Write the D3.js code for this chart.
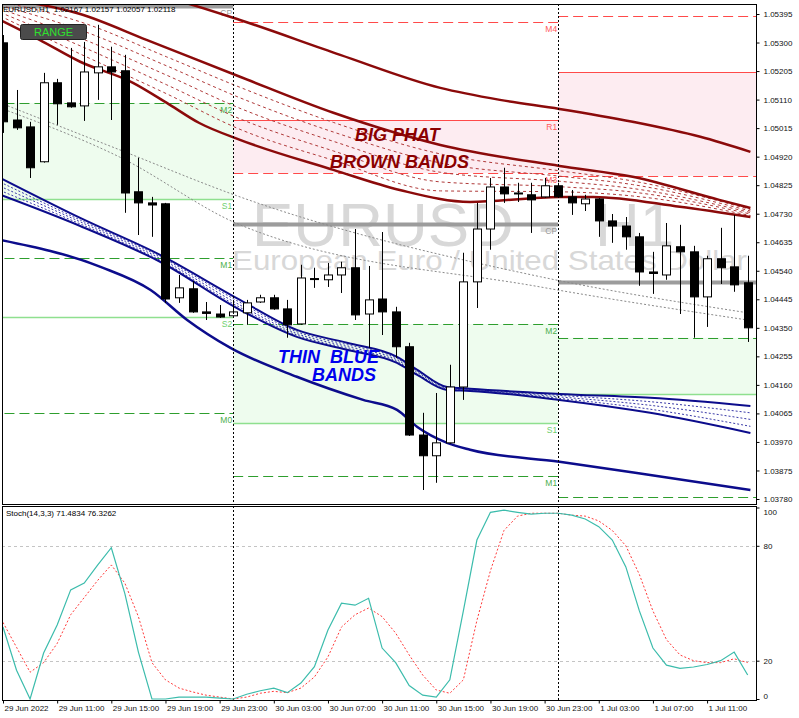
<!DOCTYPE html>
<html><head><meta charset="utf-8">
<script src="https://cdn.jsdelivr.net/npm/d3@7"></script>
<style>body{margin:0;background:#fff;}svg{display:block;font-family:"Liberation Sans",Arial,sans-serif;}</style>
</head><body><svg id="c" width="799" height="718"></svg>
<script>
// ---------------- DATA ----------------
const opens  = [1.05299,1.05042,1.05019,1.04903,1.05166,1.05099,1.05089,1.05199,1.05219,1.05206,1.04803,1.04766,1.04763,1.04450,1.04480,1.04403,1.04396,1.04390,1.04400,1.04436,1.04450,1.04413,1.04363,1.04514,1.04510,1.04526,1.04550,1.04396,1.04446,1.04403,1.04287,1.03993,1.03924,1.03967,1.04153,1.04503,1.04679,1.04819,1.04799,1.04793,1.04786,1.04823,1.04786,1.04763,1.04779,1.04706,1.04689,1.04653,1.04536,1.04526,1.04620,1.04603,1.04453,1.04580,1.04553,1.04500];
const highs  = [1.05325,1.05142,1.05036,1.05199,1.05179,1.05282,1.05302,1.05359,1.05286,1.05259,1.04916,1.04786,1.04766,1.04526,1.04506,1.04436,1.04426,1.04436,1.04443,1.04460,1.04460,1.04443,1.04560,1.04550,1.04566,1.04570,1.04679,1.04556,1.04669,1.04420,1.04300,1.04067,1.04133,1.04227,1.04600,1.04766,1.04849,1.04883,1.04833,1.04833,1.04849,1.04833,1.04809,1.04793,1.04782,1.04729,1.04719,1.04666,1.04603,1.04699,1.04693,1.04623,1.04590,1.04683,1.04726,1.04590];
const lows   = [1.04999,1.05009,1.04849,1.04900,1.05026,1.05083,1.05039,1.05109,1.05042,1.04733,1.04659,1.04653,1.04433,1.04433,1.04400,1.04376,1.04383,1.04383,1.04360,1.04433,1.04410,1.04317,1.04360,1.04483,1.04486,1.04466,1.04376,1.04283,1.04326,1.04250,1.03990,1.03810,1.03834,1.03964,1.04110,1.04416,1.04610,1.04766,1.04769,1.04666,1.04783,1.04783,1.04726,1.04739,1.04653,1.04633,1.04610,1.04490,1.04463,1.04510,1.04396,1.04317,1.04353,1.04496,1.04470,1.04303];
const closes = [1.05036,1.05016,1.04883,1.05166,1.05096,1.05086,1.05202,1.05219,1.05202,1.04799,1.04766,1.04759,1.04446,1.04483,1.04403,1.04398,1.04386,1.04403,1.04433,1.04450,1.04413,1.04360,1.04516,1.04512,1.04526,1.04550,1.04393,1.04443,1.04403,1.04287,1.03993,1.03924,1.03967,1.04153,1.04503,1.04679,1.04819,1.04796,1.04796,1.04776,1.04823,1.04786,1.04766,1.04779,1.04706,1.04689,1.04653,1.04536,1.04531,1.04623,1.04603,1.04453,1.04580,1.04550,1.04493,1.04350];

const stochMain   = [37.6,15,0,24,38.6,57,60.5,70,79,55,24.5,0,0,1,1,1,0.5,0,2.5,4.3,5.7,3.3,8.3,16.9,36,50,49,52.6,26.6,19,7,2,1,10,46,83,97.5,98.6,97.5,96.5,97,97,96,94,90,83,69,46,26.6,17.7,16,16.7,18,20,24.5,12.5];
const stochSignal = [40,27,14,19,29,44,53,62,70,60.5,43,19,10,5.7,3.7,2,1,0,1,3,4,3.3,5.7,11.5,22,37.6,44,47.5,43,34.4,23,12.5,4.7,3,10,41,67,88,95.5,97,97,97,96,95.5,93,88,80,65,46,31,23,20,19,19,21,19];

// band lines: [bar index, price]
const brownOuter = [[9,1.05482],[12.7,1.05442],[17.5,1.05375],[24.9,1.05259],[32.3,1.05149],[36.7,1.05109],[41.1,1.05079],[46.5,1.05036],[51.5,1.04986],[55.2,1.04936]];
const brownUpper = [[-0.2,1.05449],[5.7,1.05395],[10.6,1.05309],[17.5,1.05186],[24.4,1.05066],[32.3,1.04959],[41.1,1.04889],[46.5,1.04853],[52.9,1.04776],[55.2,1.04749]];
const brownLower = [[-0.2,1.05375],[2.7,1.05309],[5.7,1.05236],[9.6,1.05166],[12.1,1.05099],[14.5,1.05032],[17.5,1.04976],[24.4,1.04876],[29.3,1.04809],[34.5,1.04769],[41.1,1.04786],[43.6,1.04786],[50,1.04753],[55.2,1.04719]];
const brownFanBars = [-0.2,5.7,12.1,17.5,24.4,32.3,41.1,46.5,55.2];
const brownFan1 = [1.05436,1.05369,1.05252,1.05151,1.05034,1.04929,1.04873,1.04839,1.04744];
const brownFan2 = [1.05424,1.05342,1.05222,1.05116,1.05002,1.04899,1.04855,1.04827,1.04739];
const brownFan3 = [1.05412,1.05315,1.05191,1.05081,1.04971,1.04868,1.04838,1.04814,1.04734];
const brownFan4 = [1.05400,1.05289,1.05159,1.05046,1.04939,1.04836,1.04820,1.04802,1.04729];
const brownFan5 = [1.05388,1.05262,1.05129,1.05011,1.04908,1.04806,1.04803,1.04789,1.04724];

const blueBars  = [-0.2,5.7,11.6,17.5,21.7,25.4,29.1,30.6,32.8,34.5,41.1,47.8,55.2];
const blueUpper = [1.04849,1.04716,1.04593,1.04443,1.04343,1.04300,1.04253,1.04210,1.04153,1.04147,1.04130,1.04117,1.04090];
const blueFan1  = [1.04835,1.04709,1.04587,1.04435,1.04337,1.04294,1.04248,1.04206,1.04151,1.04145,1.04125,1.04104,1.04067];
const blueFan2  = [1.04821,1.04703,1.04581,1.04426,1.04331,1.04288,1.04243,1.04202,1.04148,1.04143,1.04120,1.04092,1.04045];
const blueFan3  = [1.04807,1.04696,1.04575,1.04418,1.04326,1.04282,1.04238,1.04197,1.04146,1.04142,1.04115,1.04079,1.04022];
const blueLower = [1.04793,1.04689,1.04570,1.04410,1.04320,1.04277,1.04233,1.04193,1.04143,1.04140,1.04110,1.04067,1.04000];
const blueOuter = [[-0.2,1.04643],[7.2,1.04553],[10.9,1.04476],[13.6,1.04376],[16.8,1.04283],[21.7,1.04187],[26.6,1.04110],[29.1,1.04077],[30.6,1.04020],[32.8,1.03967],[34.5,1.03944],[41.1,1.03904],[47.8,1.03860],[55.2,1.03810]];

const grayMA1 = [[-0.2,1.05099],[8.6,1.04943],[17.5,1.04786],[39.7,1.04520],[55,1.04400]];
const grayMA2 = [[-0.2,1.05082],[8.6,1.04919],[17.5,1.04693],[39.7,1.04486],[55,1.04376]];

// pivot levels per day (day start bar, end bar)
const dayStarts = [-1, 17, 41];
const dayEnds   = [17, 41, 57];
const levelNames = ["M4","R1","M3","CP","M2","S1","M1","S2","M0"];
const levelsDay1 = [null,null,null,1.05422,1.05099,1.04779,1.04583,1.04386,1.04067];
const levelsDay2 = [1.05369,1.05042,1.04866,1.04696,1.04363,1.04033,1.03857,null,null];
const levelsDay3 = [1.05389,1.05202,1.04856,1.04503,1.04317,1.04130,1.03787,null,null];

const priceTicks = [1.05395,1.05300,1.05205,1.05110,1.05015,1.04920,1.04825,1.04730,1.04635,1.04540,1.04445,1.04350,1.04255,1.04160,1.04065,1.03970,1.03875,1.03780];
const timeTickBars = [0,4,8,12,16,20,24,28,32,36,40,44,48,52];
const timeTickLabels = ["29 Jun 2022","29 Jun 11:00","29 Jun 15:00","29 Jun 19:00","29 Jun 23:00","30 Jun 03:00","30 Jun 07:00","30 Jun 11:00","30 Jun 15:00","30 Jun 19:00","30 Jun 23:00","1 Jul 03:00","1 Jul 07:00","1 Jul 11:00"];
const stochTicks = [0,20,80,100];
const separatorBars = [17,41];

// ---------------- DRAW ----------------
const W=799,H=718;
const L=2,R=756,MT=4,MB=504,ST=506,SB=700;
const svg=d3.select("#c");
const x=d3.scaleLinear().domain([0,55]).range([3,3+55*13.54]);
const y=d3.scaleLinear().domain([1.03780,1.05395]).range([499,14]);
const ys=d3.scaleLinear().domain([0,100]).range([699,507.5]);

svg.append("rect").attr("width",W).attr("height",H).attr("fill","#fff");
const defs=svg.append("defs");
defs.append("clipPath").attr("id","cm").append("rect").attr("x",L).attr("y",MT).attr("width",R-L).attr("height",MB-MT);
defs.append("clipPath").attr("id","cs").append("rect").attr("x",L).attr("y",ST).attr("width",R-L).attr("height",SB-ST);

const main=svg.append("g").attr("clip-path","url(#cm)");

// pivot zones
const allDays=[levelsDay1,levelsDay2,levelsDay3];
const idx=n=>levelNames.indexOf(n);
allDays.forEach((lv,d)=>{
  const xs=x(dayStarts[d]), xe=x(dayEnds[d]);
  if(lv[idx("R1")]!=null && lv[idx("M3")]!=null)
    main.append("rect").attr("x",xs).attr("width",xe-xs).attr("y",y(lv[idx("R1")])).attr("height",y(lv[idx("M3")])-y(lv[idx("R1")])).attr("fill","#fdecf1");
  if(lv[idx("M2")]!=null && lv[idx("S1")]!=null)
    main.append("rect").attr("x",xs).attr("width",xe-xs).attr("y",y(lv[idx("M2")])).attr("height",y(lv[idx("S1")])-y(lv[idx("M2")])).attr("fill","#eefcee");
});

// watermark
const wm=main.append("text").attr("y",246).attr("font-size",62).attr("fill","#d8d8d8");
wm.append("tspan").attr("x",252).text("EURUSD");
wm.append("tspan").attr("x",538).text("-");
wm.append("tspan").attr("x",595).text("H1");
main.append("text").attr("x",232).attr("y",270).attr("font-size",28).attr("fill","#d8d8d8")
  .attr("textLength",515).attr("lengthAdjust","spacingAndGlyphs").text("European Euro / United States Dollar");

// pivot lines
const style=n=>{
  if(n==="CP") return {c:"#9c9c9c",w:4,da:null,tc:"#9c9c9c"};
  if(n==="R1") return {c:"#ff4a4a",w:1,da:null,tc:"#ff5a5a"};
  if(n==="M3"||n==="M4") return {c:"#ff4a4a",w:1,da:"10,5",tc:"#ff5a5a"};
  if(n[0]==="S") return {c:"#8fe08f",w:1.5,da:null,tc:"#6fd06f"};
  return {c:"#2e9e2e",w:1,da:"10,5",tc:"#4caf4c"};
};
allDays.forEach((lv,d)=>{
  const xs=x(dayStarts[d]), xe=x(dayEnds[d]);
  lv.forEach((v,k)=>{
    if(v==null) return;
    const s=style(levelNames[k]);
    main.append("line").attr("x1",xs).attr("x2",xe).attr("y1",Math.round(y(v))+0.5).attr("y2",Math.round(y(v))+0.5)
      .attr("stroke",s.c).attr("stroke-width",s.w).attr("stroke-dasharray",s.da);
    if(d<2) main.append("text").attr("x",xe-1).attr("y",y(v)+10).attr("text-anchor","end")
      .attr("font-size",8.5).attr("fill",s.tc).text(levelNames[k]);
  });
});

// separators
separatorBars.forEach(b=>{
  [[MT,MB],[ST,SB]].forEach(([a,c])=>{
    svg.append("line").attr("x1",Math.round(x(b))+0.5).attr("x2",Math.round(x(b))+0.5).attr("y1",a).attr("y2",c)
      .attr("stroke","#000").attr("stroke-dasharray","2,2");
  });
});

// bands
const lp=d3.line().x(d=>x(d[0])).y(d=>y(d[1])).curve(d3.curveMonotoneX);
const zipBars=(bars,vals)=>bars.map((b,i)=>[b,vals[i]]);
const path=(g,data,c,w,da)=>g.append("path").attr("d",lp(data)).attr("fill","none").attr("stroke",c).attr("stroke-width",w).attr("stroke-dasharray",da||null);

path(main,grayMA1,"#8a8a8a",1,"2,2");
path(main,grayMA2,"#8a8a8a",1,"2,2");

[brownFan1,brownFan2,brownFan3,brownFan4,brownFan5].forEach(f=>path(main,zipBars(brownFanBars,f),"#b03a3a",1,"3,3"));
path(main,brownOuter,"#8b0a0a",2.5);
path(main,brownUpper,"#8b0a0a",2.5);
path(main,brownLower,"#8b0a0a",2.5);

[blueFan1,blueFan2,blueFan3].forEach(f=>path(main,zipBars(blueBars,f),"#3a3aa8",1,"2,2"));
path(main,zipBars(blueBars,blueUpper),"#0c0c8c",2);
path(main,zipBars(blueBars,blueLower),"#0c0c8c",2);
path(main,blueOuter,"#0c0c8c",2.5);

// candles
const cg=main.append("g");
opens.forEach((o,i)=>{
  const cx=Math.round(x(i))+0.5, c=closes[i];
  cg.append("line").attr("x1",cx).attr("x2",cx).attr("y1",y(highs[i])).attr("y2",y(lows[i])).attr("stroke","#000");
  const top=Math.min(y(o),y(c)), h=Math.max(1,Math.abs(y(o)-y(c)));
  cg.append("rect").attr("x",cx-4).attr("y",top).attr("width",8).attr("height",h)
    .attr("fill",c>o?"#fff":"#000").attr("stroke","#000").attr("stroke-width",1);
});

// annotations
const ann=(t,xx,yy,c)=>main.append("text").attr("x",xx).attr("y",yy).attr("font-size",18).attr("font-weight","bold")
  .attr("font-style","italic").attr("fill",c).style("white-space","pre").text(t);
ann("BIG PHAT",355,141,"#8b0000");
ann("BROWN BANDS",330,168,"#8b0000");
ann("THIN  BLUE",278,363,"#0000ee");
ann("BANDS",312,381,"#0000ee");

// header + button
svg.append("text").attr("x",3).attr("y",12).attr("font-size",8).attr("fill","#000").style("white-space","pre")
  .text("EURUSD,H1  1.02167 1.02157 1.02057 1.02118");
svg.append("rect").attr("x",20.5).attr("y",24.5).attr("width",66).attr("height",15).attr("rx",2)
  .attr("fill","#4b4b4b").attr("stroke","#222");
svg.append("text").attr("x",53.5).attr("y",36).attr("text-anchor","middle").attr("font-size",11).attr("fill","#2ee02e").text("RANGE");

// stoch panel
const sg=svg.append("g").attr("clip-path","url(#cs)");
[20,80].forEach(v=>sg.append("line").attr("x1",L).attr("x2",R).attr("y1",Math.round(ys(v))+0.5).attr("y2",Math.round(ys(v))+0.5)
  .attr("stroke","#c4c4c4").attr("stroke-dasharray","3,3"));
const ls=d3.line().x((d,i)=>x(i)).y(d=>ys(d));
sg.append("path").attr("d",ls(stochSignal)).attr("fill","none").attr("stroke","#ff3a3a").attr("stroke-dasharray","2,2");
sg.append("path").attr("d",ls(stochMain)).attr("fill","none").attr("stroke","#3cbcac").attr("stroke-width",1.2);
svg.append("text").attr("x",6).attr("y",516).attr("font-size",8).attr("fill","#000").text("Stoch(14,3,3) 71.4834 76.3262");

// frames
svg.append("rect").attr("x",L+0.5).attr("y",MT+0.5).attr("width",R-L).attr("height",MB-MT).attr("fill","none").attr("stroke","#000");
svg.append("rect").attr("x",L+0.5).attr("y",ST+0.5).attr("width",R-L).attr("height",SB-ST).attr("fill","none").attr("stroke","#000");

// axes
const pa=svg.append("g").attr("transform",`translate(${R+0.5},0)`)
  .call(d3.axisRight(y).tickValues(priceTicks).tickFormat(d3.format(".5f")).tickSize(3).tickPadding(4));
pa.select(".domain").remove();
pa.selectAll("text").attr("font-size",8).attr("font-family","Liberation Sans, Arial").attr("fill","#111");

const sa=svg.append("g").attr("transform",`translate(${R+0.5},0)`)
  .call(d3.axisRight(ys).tickValues(stochTicks).tickSize(3).tickPadding(4));
sa.select(".domain").remove();
sa.selectAll("text").attr("font-size",8).attr("font-family","Liberation Sans, Arial").attr("fill","#111")
  .attr("dy",d=>d===100?"0.9em":d===0?"-0.1em":"0.32em");

const ta=svg.append("g").attr("transform",`translate(0,${SB+0.5})`)
  .call(d3.axisBottom(x).tickValues(timeTickBars).tickFormat((d,i)=>timeTickLabels[i]).tickSize(3).tickPadding(2));
ta.select(".domain").remove();
ta.selectAll("text").attr("font-size",8).attr("font-family","Liberation Sans, Arial").attr("fill","#111")
  .attr("text-anchor","start").attr("dx",1);
</script></body></html>
